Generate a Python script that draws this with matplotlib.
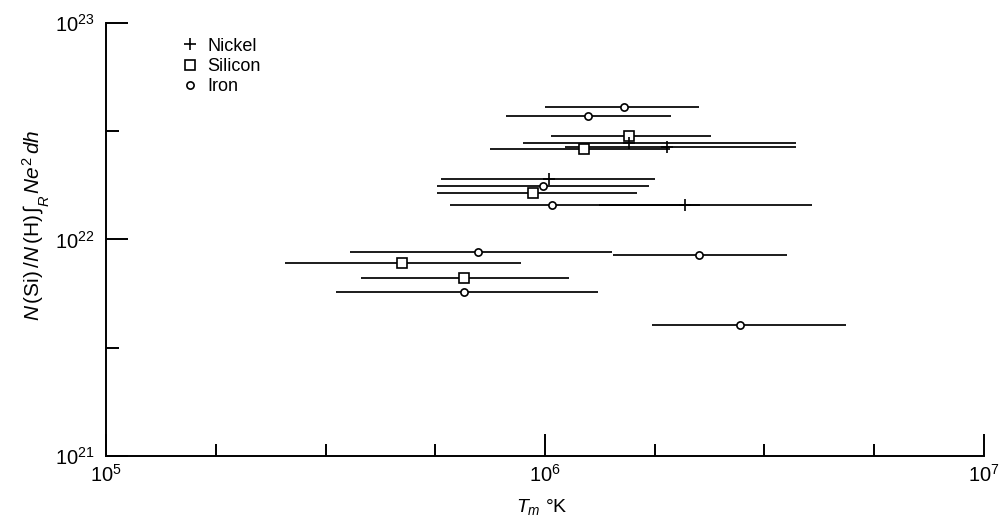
import numpy as np
import matplotlib
matplotlib.use("Agg")
import matplotlib.pyplot as plt
from matplotlib.lines import Line2D
from matplotlib.ticker import FixedLocator, FuncFormatter, NullFormatter

plt.rcParams['font.family'] = ['Liberation Sans', 'DejaVu Sans']
plt.rcParams['mathtext.fontset'] = 'custom'
plt.rcParams['mathtext.rm'] = 'Liberation Sans'
plt.rcParams['mathtext.it'] = 'Liberation Sans:italic'

# Iron: temperature (centre, low, high) and N(Si)/N(H) integral
iron_t = [1.51e6, 1.25e6, 9.89e5, 1.04e6, 7.03e5, 2.24e6, 6.53e5, 2.78e6]
iron_lo = [1.00e6, 8.15e5, 5.68e5, 6.08e5, 3.60e5, 1.43e6, 3.34e5, 1.75e6]
iron_hi = [2.24e6, 1.94e6, 1.73e6, 2.25e6, 1.42e6, 3.56e6, 1.32e6, 4.85e6]
iron_n = [4.09e22, 3.72e22, 1.77e22, 1.44e22, 8.75e21, 8.47e21, 5.73e21, 4.03e21]

# Silicon
si_t = [1.55e6, 1.23e6, 9.40e5, 4.72e5, 6.53e5]
si_lo = [1.03e6, 7.50e5, 5.68e5, 2.56e5, 3.81e5]
si_hi = [2.39e6, 1.93e6, 1.62e6, 8.81e5, 1.135e6]
si_n = [3.01e22, 2.62e22, 1.64e22, 7.78e21, 6.64e21]

# Nickel
ni_t = [1.55e6, 1.90e6, 1.02e6, 2.08e6]
ni_lo = [8.91e5, 1.11e6, 5.79e5, 1.33e6]
ni_hi = [3.73e6, 3.73e6, 1.78e6, 4.06e6]
ni_n = [2.79e22, 2.67e22, 1.90e22, 1.44e22]

fig = plt.figure(figsize=(10.01, 5.18), dpi=100)
ax = fig.add_axes([0.1059, 0.1197, 0.8771, 0.8359])
ax.set_xscale('log')
ax.set_yscale('log')
ax.set_xlim(1e5, 1e7)
ax.set_ylim(1e21, 1e23)


def draw(t, lo, hi, n, marker, ms, mfc, mew):
    t = np.array(t)
    xerr = [t - np.array(lo), np.array(hi) - t]
    ax.errorbar(t, n, xerr=xerr, fmt=marker, ms=ms, mfc=mfc, mec='black',
                mew=mew, ecolor='black', elinewidth=1.25, capsize=0,
                color='black', zorder=3)


draw(iron_t, iron_lo, iron_hi, iron_n, 'o', 5.2, 'white', 1.2)
draw(si_t, si_lo, si_hi, si_n, 's', 6.8, 'white', 1.2)
draw(ni_t, ni_lo, ni_hi, ni_n, '+', 8.5, 'black', 1.2)

# axes look: only left and bottom, ticks pointing inward
for side in ['top', 'right']:
    ax.spines[side].set_visible(False)
for side in ['left', 'bottom']:
    ax.spines[side].set_linewidth(1.4)

ax.xaxis.set_major_locator(FixedLocator([1e5, 1e6, 1e7]))
ax.xaxis.set_minor_locator(FixedLocator([10 ** e for e in [5.25, 5.5, 5.75, 6.25, 6.5, 6.75]]))
ax.yaxis.set_major_locator(FixedLocator([1e21, 1e22, 1e23]))
ax.yaxis.set_minor_locator(FixedLocator([10 ** 21.5, 10 ** 22.5]))
fmt = FuncFormatter(lambda v, p: r'$10^{%d}$' % round(np.log10(v)))
ax.xaxis.set_major_formatter(fmt)
ax.yaxis.set_major_formatter(fmt)
ax.xaxis.set_minor_formatter(NullFormatter())
ax.yaxis.set_minor_formatter(NullFormatter())
ax.tick_params(which='major', direction='in', length=16, width=1.4, labelsize=14.5, pad=8)
ax.tick_params(which='minor', direction='in', length=9, width=1.4)
ax.tick_params(axis='x', which='major', pad=6)

ax.set_xlabel(r'$T_m$ °K', fontsize=14)
ax.xaxis.set_label_coords(0.496, -0.095)
ax.set_ylabel(r'$N\,$(Si)$\,/N\,$(H)$\,\int_R\, Ne^2\,dh$', fontsize=15)
ax.yaxis.set_label_coords(-0.062, 0.533)

handles = [
    Line2D([], [], ls='none', marker='+', ms=8.5, mew=1.2, color='black'),
    Line2D([], [], ls='none', marker='s', ms=6.8, mew=1.2, mfc='white', mec='black'),
    Line2D([], [], ls='none', marker='o', ms=5.2, mew=1.2, mfc='white', mec='black'),
]
ax.legend(handles, ['Nickel', 'Silicon', 'Iron'], loc='upper left',
          bbox_to_anchor=(0.0888, 0.966), frameon=False, fontsize=13,
          handlelength=0.7, handletextpad=0.6, labelspacing=0.18,
          borderaxespad=0, borderpad=0)

fig.savefig('out.png', dpi=100)
